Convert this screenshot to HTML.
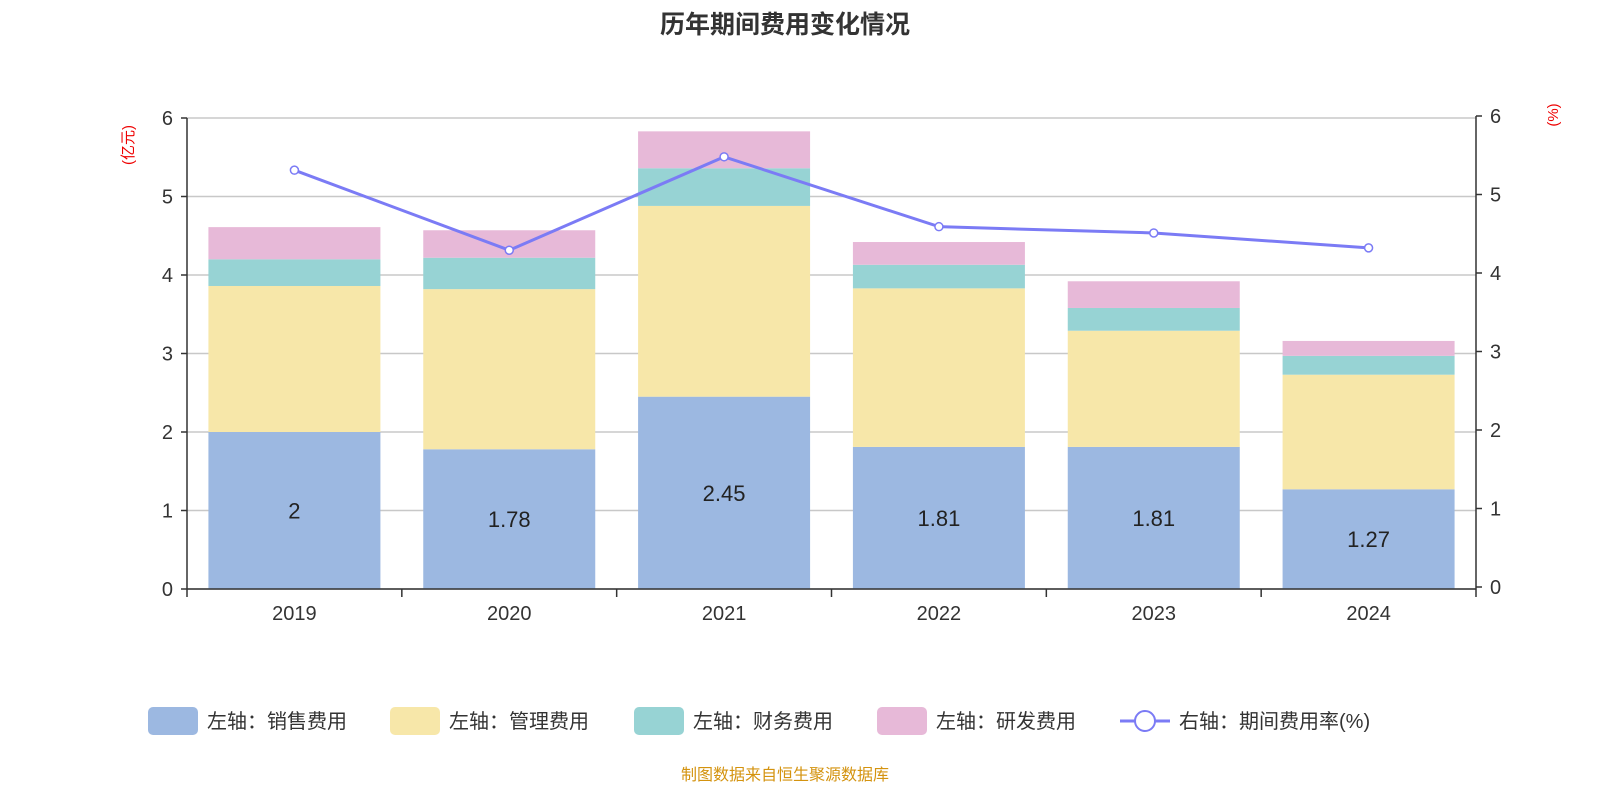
<!DOCTYPE html>
<html><head><meta charset="utf-8">
<style>
body{margin:0;background:#fff;font-family:"Liberation Sans","Noto Sans CJK SC",sans-serif;}
svg text{font-family:"Liberation Sans","Noto Sans CJK SC",sans-serif;}
</style></head>
<body>
<svg id="chart" width="1600" height="800" xmlns="http://www.w3.org/2000/svg">
<text x="785" y="33" text-anchor="middle" font-size="25" font-weight="bold" fill="#333">历年期间费用变化情况</text>
<text x="0" y="0" transform="translate(133,145) rotate(-90)" text-anchor="middle" font-size="15" fill="#e00">(亿元)</text>
<text x="0" y="0" transform="translate(1558,115) rotate(-90)" text-anchor="middle" font-size="15" fill="#e00">(%)</text>
<g id="grid"></g><g id="bars"></g><g id="axes"></g><g id="line"></g>
<g font-size="20" fill="#333">
<g><rect x="148" y="707" width="50" height="28" rx="5" fill="#9cb8e1"/><text x="207" y="728">左轴：销售费用</text></g>
<g><rect x="390" y="707" width="50" height="28" rx="5" fill="#f7e7a9"/><text x="449" y="728">左轴：管理费用</text></g>
<g><rect x="634" y="707" width="50" height="28" rx="5" fill="#97d3d4"/><text x="693" y="728">左轴：财务费用</text></g>
<g><rect x="877" y="707" width="50" height="28" rx="5" fill="#e7b9d8"/><text x="936" y="728">左轴：研发费用</text></g>
<g><line x1="1120" y1="721" x2="1170" y2="721" stroke="#7b7bf5" stroke-width="3"/><circle cx="1145" cy="721" r="10" fill="#fff" stroke="#7b7bf5" stroke-width="2"/><text x="1179" y="728">右轴：期间费用率(%)</text></g>
</g>
<text x="785" y="780" text-anchor="middle" font-size="16" fill="#d4930f">制图数据来自恒生聚源数据库</text>
</svg>
<script>
const categories=["2019","2020","2021","2022","2023","2024"];
const sales=[2,1.78,2.45,1.81,1.81,1.27];
const admin=[1.86,2.04,2.43,2.02,1.48,1.46];
const finance=[0.34,0.40,0.48,0.30,0.29,0.24];
const rd=[0.41,0.35,0.47,0.29,0.34,0.19];
const rate=[5.31,4.29,5.48,4.59,4.51,4.32];
const yTicks=[0,1,2,3,4,5,6];
const NS="http://www.w3.org/2000/svg";
const X0=187,X1=1476,Y0=589,Y6=118;
const bw=(X1-X0)/categories.length;
const yL=v=>Y0-(Y0-Y6)*v/6;
const yR=v=>587-(587-116)*v/6;
const xC=i=>X0+bw*(i+0.5);
function mk(tag,attrs,parent,text){const e=document.createElementNS(NS,tag);for(const k in attrs)e.setAttribute(k,attrs[k]);if(text!==undefined)e.textContent=text;document.getElementById(parent).appendChild(e);return e;}
yTicks.forEach(t=>{
 let g=mk("line",{x1:X0,x2:X1,y1:yL(t),y2:yL(t),stroke:"#c8c8c8","stroke-width":1.5},"grid");
 
 
 let a=mk("line",{x1:X0-6,x2:X0,y1:yL(t),y2:yL(t),stroke:"#333","stroke-width":1.5},"axes");
 let l=mk("text",{x:X0-14,y:yL(t)+7,"text-anchor":"end","font-size":20,fill:"#333"},"axes",String(t));
 
 
 mk("line",{x1:X1,x2:X1+6,y1:yR(t),y2:yR(t),stroke:"#333","stroke-width":1.5},"axes");
 let r=mk("text",{x:X1+14,y:yR(t)+7,"font-size":20,fill:"#333"},"axes",String(t));
 
 
});
mk("line",{x1:X0,x2:X0,y1:Y6,y2:Y0,stroke:"#333","stroke-width":1.5},"axes");
mk("line",{x1:X1,x2:X1,y1:116,y2:Y0,stroke:"#333","stroke-width":1.5},"axes");
mk("line",{x1:X0,x2:X1,y1:Y0,y2:Y0,stroke:"#333","stroke-width":1.5},"axes");
for(let i=0;i<=categories.length;i++)mk("line",{x1:X0+bw*i,x2:X0+bw*i,y1:Y0,y2:Y0+8,stroke:"#333","stroke-width":1.5},"axes");
const series=[[sales,"#9cb8e1","sales"],[admin,"#f7e7a9","admin"],[finance,"#97d3d4","finance"],[rd,"#e7b9d8","rd"]];
categories.forEach((c,i)=>{
 let base=0;
 series.forEach(([arr,col,nm])=>{
  const top=base+arr[i];
  let r=mk("rect",{x:xC(i)-86,width:172,y:yL(top),height:yL(base)-yL(top),fill:col},"bars");
  
  
  base=top;
 });
 let v=mk("text",{x:xC(i),y:(yL(0)+yL(sales[i]))/2+8,"text-anchor":"middle","font-size":22,fill:"#222"},"bars",String(sales[i]));
 
 
 let xl=mk("text",{x:xC(i),y:620,"text-anchor":"middle","font-size":20,fill:"#333"},"axes",c);
 
 
});
let p=mk("polyline",{points:rate.map((v,i)=>xC(i)+","+yR(v)).join(" "),fill:"none",stroke:"#7b7bf5","stroke-width":3},"line");


rate.forEach((v,i)=>{
 let c=mk("circle",{cx:xC(i),cy:yR(v),r:4,fill:"#fff",stroke:"#7b7bf5","stroke-width":1.5},"line");
 
 
});
</script>
</body></html>
